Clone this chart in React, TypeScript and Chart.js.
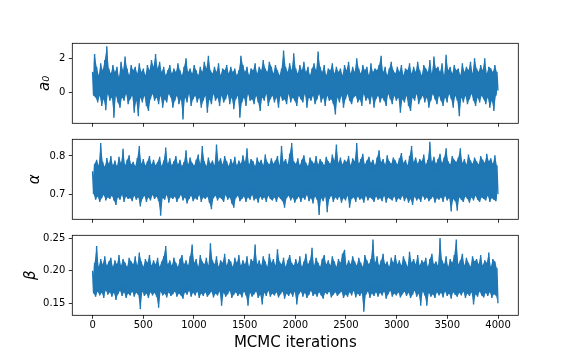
import React, { useEffect, useRef } from 'react';
import { Chart, registerables } from 'chart.js';

Chart.register(...registerables);
Chart.defaults.font.family = "'DejaVu Sans', sans-serif";

// ---- data: per 20-iteration bin, the trace's high and low ----
const lastIteration = 3999;
const xTicks = [0, 500, 1000, 1500, 2000, 2500, 3000, 3500, 4000];
const xTickLabels = ['0', '500', '1000', '1500', '2000', '2500', '3000', '3500', '4000'];

const a0High = [
  1.2, 2.25, 1.5, 1.0, 1.7, 1.3, 1.9, 2.7, 1.4, 1.1,
  1.6, 1.2, 1.5, 0.9, 1.8, 1.3, 2.1, 1.4, 1.0, 1.6,
  1.3, 1.5, 1.1, 1.7, 1.2, 1.4, 1.0, 1.6, 1.3, 1.9,
  1.5, 2.25, 1.4, 1.8, 1.2, 1.5, 1.0, 1.3, 1.6, 1.1,
  1.4, 1.2, 1.7, 1.3, 1.0, 1.5, 2.0, 1.2, 1.4, 1.1,
  1.6, 1.3, 1.0, 1.5, 1.2, 1.8, 1.4, 2.15, 1.3, 1.1,
  1.5, 1.2, 1.7, 1.0, 1.4, 1.3, 1.6, 1.1, 1.5, 1.2,
  1.4, 1.0, 1.3, 2.15, 1.6, 1.2, 1.5, 1.0, 1.4, 1.3,
  1.7, 1.1, 1.5, 1.3, 1.9, 1.4, 1.2, 1.8, 1.5, 1.1,
  1.6, 1.3, 1.0, 1.4, 2.45, 1.5, 1.2, 1.7, 1.3, 2.3,
  1.4, 1.1, 1.6, 1.3, 1.8, 1.2, 1.5, 1.0, 1.4, 1.7,
  1.3, 2.4, 1.5, 1.2, 1.6, 1.0, 1.4, 1.3, 1.7, 1.1,
  1.5, 1.2, 1.4, 1.0, 1.6, 1.3, 1.8, 1.1, 1.5, 1.2,
  2.0, 1.4, 1.1, 1.6, 1.3, 1.5, 1.0, 1.7, 1.2, 1.4,
  1.3, 1.6, 2.15, 1.2, 1.5, 1.0, 1.4, 1.8, 1.3, 1.1,
  1.5, 1.2, 1.6, 1.0, 1.4, 1.3, 1.7, 1.1, 1.5, 1.2,
  1.8, 1.3, 1.0, 1.6, 1.4, 1.2, 1.9, 1.1, 2.1, 1.4,
  1.5, 1.2, 1.7, 1.0, 2.2, 1.3, 1.5, 1.1, 1.6, 1.3,
  1.4, 1.0, 1.7, 1.2, 1.5, 1.3, 1.8, 1.1, 2.0, 1.4,
  1.2, 1.6, 1.3, 2.0, 1.1, 1.5, 1.4, 1.2, 1.6, 1.2,
];
const a0Low = [
  -0.2, -0.3, -0.6, -0.2, -0.8, -0.4, -1.05, -0.1, -0.5, -0.3,
  -1.5, -0.2, -0.6, -0.9, -0.3, -0.5, -0.1, -0.7, -0.4, -0.2,
  -1.2, -0.5, -1.4, -0.3, -0.6, -0.2, -0.8, -1.1, -0.4, -0.1,
  -0.5, -0.3, -0.7, -0.2, -0.9, -0.4, -0.6, -0.1, -0.3, -0.9,
  -0.5, -0.2, -0.7, -0.4, -1.6, -0.3, -0.6, -0.1, -0.8, -0.4,
  -0.2, -0.6, -0.3, -0.9, -0.5, -0.2, -1.2, -0.4, -0.7, -0.1,
  -0.5, -0.3, -0.8, -0.2, -0.6, -0.4, -0.1, -0.7, -0.3, -1.0,
  -0.4, -0.2, -1.5, -0.6, -0.3, -0.8, -0.1, -0.5, -0.4, -0.7,
  -0.2, -0.6, -1.1, -0.3, -0.5, -0.1, -0.8, -0.4, -0.2, -0.6,
  -0.3, -0.9, -0.2, -0.5, -0.4, -0.7, -0.1, -0.6, -0.3, -0.5,
  -0.8, -0.2, -0.4, -0.6, -0.1, -0.9, -0.3, -0.5, -0.2, -0.7,
  -0.4, -0.1, -0.6, -0.3, -0.8, -0.2, -0.5, -0.4, -0.7, -1.3,
  -0.3, -0.6, -0.2, -0.9, -0.4, -0.1, -0.5, -0.7, -0.3, -0.2,
  -0.6, -0.4, -0.8, -0.1, -0.5, -0.3, -0.7, -0.2, -0.9, -0.4,
  -0.2, -0.6, -0.3, -0.5, -0.8, -0.1, -0.4, -0.7, -0.2, -0.5,
  -0.3, -1.2, -0.4, -0.6, -0.2, -0.8, -1.1, -0.3, -0.5, -0.1,
  -0.7, -0.4, -0.2, -0.6, -0.3, -0.9, -0.5, -0.1, -0.4, -0.7,
  -0.2, -0.5, -0.8, -0.3, -0.6, -0.1, -0.4, -0.9, -0.2, -0.5,
  -1.4, -0.3, -0.6, -0.2, -0.7, -0.4, -0.1, -0.5, -0.8, -0.3,
  -0.6, -0.2, -0.4, -0.7, -0.3, -0.9, -0.5, -1.1, -0.2, 0.1,
];

const alphaHigh = [
  0.760, 0.780, 0.790, 0.775, 0.834, 0.785, 0.772, 0.795, 0.780, 0.800,
  0.776, 0.788, 0.774, 0.798, 0.782, 0.819, 0.776, 0.790, 0.802, 0.778,
  0.785, 0.774, 0.795, 0.826, 0.780, 0.792, 0.775, 0.786, 0.800, 0.778,
  0.790, 0.776, 0.784, 0.798, 0.774, 0.788, 0.822, 0.780, 0.794, 0.776,
  0.786, 0.800, 0.778, 0.790, 0.774, 0.784, 0.815, 0.778, 0.796, 0.782,
  0.775, 0.790, 0.804, 0.780, 0.826, 0.786, 0.774, 0.796, 0.780, 0.788,
  0.776, 0.830, 0.784, 0.794, 0.778, 0.800, 0.786, 0.774, 0.792, 0.780,
  0.798, 0.776, 0.788, 0.780, 0.802, 0.784, 0.820, 0.778, 0.792, 0.786,
  0.774, 0.796, 0.782, 0.790, 0.776, 0.804, 0.784, 0.778, 0.794, 0.780,
  0.788, 0.800, 0.776, 0.826, 0.784, 0.792, 0.778, 0.806, 0.834, 0.786,
  0.780, 0.794, 0.776, 0.790, 0.802, 0.782, 0.774, 0.796, 0.786, 0.780,
  0.800, 0.778, 0.792, 0.784, 0.776, 0.798, 0.786, 0.780, 0.804, 0.788,
  0.830, 0.782, 0.796, 0.778, 0.790, 0.784, 0.800, 0.776, 0.794, 0.786,
  0.834, 0.780, 0.792, 0.806, 0.778, 0.788, 0.798, 0.782, 0.790, 0.776,
  0.796, 0.815, 0.784, 0.792, 0.778, 0.802, 0.786, 0.780, 0.796, 0.788,
  0.778, 0.794, 0.808, 0.782, 0.790, 0.776, 0.800, 0.826, 0.784, 0.796,
  0.780, 0.792, 0.786, 0.804, 0.778, 0.790, 0.837, 0.784, 0.798, 0.780,
  0.792, 0.806, 0.782, 0.796, 0.820, 0.786, 0.778, 0.800, 0.790, 0.784,
  0.796, 0.820, 0.782, 0.792, 0.778, 0.804, 0.788, 0.780, 0.796, 0.786,
  0.778, 0.800, 0.790, 0.782, 0.806, 0.786, 0.794, 0.780, 0.802, 0.776,
];
const alphaLow = [
  0.700, 0.686, 0.694, 0.680, 0.690, 0.698, 0.684, 0.692, 0.688, 0.696,
  0.684, 0.672, 0.692, 0.686, 0.698, 0.680, 0.694, 0.688, 0.690, 0.682,
  0.696, 0.686, 0.692, 0.668, 0.688, 0.696, 0.680, 0.692, 0.684, 0.698,
  0.688, 0.694, 0.682, 0.644, 0.690, 0.686, 0.698, 0.678, 0.692, 0.688,
  0.694, 0.680, 0.690, 0.698, 0.684, 0.692, 0.676, 0.688, 0.696, 0.682,
  0.690, 0.686, 0.698, 0.680, 0.692, 0.688, 0.694, 0.678, 0.661, 0.690,
  0.696, 0.684, 0.692, 0.688, 0.680, 0.698, 0.686, 0.692, 0.676, 0.665,
  0.690, 0.696, 0.682, 0.688, 0.694, 0.680, 0.692, 0.686, 0.698, 0.684,
  0.690, 0.678, 0.694, 0.686, 0.692, 0.680, 0.696, 0.688, 0.684, 0.692,
  0.680, 0.694, 0.688, 0.682, 0.665, 0.690, 0.696, 0.684, 0.692, 0.678,
  0.688, 0.694, 0.680, 0.692, 0.686, 0.698, 0.682, 0.690, 0.676, 0.694,
  0.686, 0.646, 0.690, 0.682, 0.694, 0.653, 0.688, 0.696, 0.680, 0.692,
  0.686, 0.694, 0.678, 0.690, 0.684, 0.696, 0.665, 0.688, 0.692, 0.680,
  0.694, 0.686, 0.690, 0.678, 0.696, 0.684, 0.692, 0.688, 0.680, 0.694,
  0.686, 0.690, 0.682, 0.696, 0.678, 0.692, 0.688, 0.684, 0.694, 0.680,
  0.690, 0.686, 0.696, 0.682, 0.692, 0.678, 0.688, 0.672, 0.694, 0.684,
  0.690, 0.680, 0.696, 0.686, 0.692, 0.682, 0.688, 0.694, 0.678, 0.690,
  0.686, 0.692, 0.680, 0.696, 0.684, 0.690, 0.655, 0.688, 0.682, 0.657,
  0.692, 0.686, 0.680, 0.694, 0.688, 0.678, 0.692, 0.684, 0.696, 0.686,
  0.680, 0.692, 0.688, 0.684, 0.696, 0.680, 0.690, 0.686, 0.682, 0.700,
];

const betaHigh = [
  0.200, 0.212, 0.238, 0.206, 0.218, 0.210, 0.222, 0.208, 0.214, 0.220,
  0.206, 0.216, 0.210, 0.224, 0.208, 0.218, 0.212, 0.206, 0.220, 0.214,
  0.210, 0.222, 0.208, 0.228, 0.214, 0.206, 0.218, 0.212, 0.224, 0.208,
  0.216, 0.210, 0.220, 0.206, 0.214, 0.222, 0.238, 0.210, 0.216, 0.208,
  0.220, 0.212, 0.206, 0.218, 0.224, 0.210, 0.216, 0.208, 0.222, 0.240,
  0.212, 0.218, 0.206, 0.224, 0.214, 0.210, 0.220, 0.208, 0.242, 0.216,
  0.210, 0.222, 0.206, 0.216, 0.212, 0.226, 0.208, 0.218, 0.214, 0.206,
  0.220, 0.212, 0.224, 0.208, 0.216, 0.210, 0.222, 0.206, 0.218, 0.214,
  0.240, 0.210, 0.216, 0.208, 0.222, 0.214, 0.206, 0.226, 0.212, 0.218,
  0.208, 0.233, 0.214, 0.210, 0.220, 0.206, 0.216, 0.224, 0.212, 0.208,
  0.218, 0.210, 0.222, 0.206, 0.214, 0.226, 0.210, 0.216, 0.235, 0.208,
  0.220, 0.212, 0.206, 0.218, 0.224, 0.210, 0.216, 0.208, 0.222, 0.214,
  0.206, 0.218, 0.212, 0.226, 0.232, 0.208, 0.216, 0.210, 0.222, 0.214,
  0.208, 0.220, 0.212, 0.206, 0.224, 0.216, 0.210, 0.218, 0.248, 0.212,
  0.222, 0.208, 0.216, 0.226, 0.210, 0.214, 0.206, 0.220, 0.212, 0.224,
  0.210, 0.216, 0.208, 0.222, 0.214, 0.206, 0.229, 0.212, 0.218, 0.210,
  0.224, 0.208, 0.216, 0.212, 0.220, 0.206, 0.218, 0.226, 0.210, 0.214,
  0.208, 0.250, 0.216, 0.210, 0.222, 0.206, 0.218, 0.212, 0.224, 0.248,
  0.210, 0.216, 0.226, 0.208, 0.220, 0.212, 0.206, 0.222, 0.214, 0.218,
  0.210, 0.224, 0.208, 0.216, 0.212, 0.228, 0.206, 0.218, 0.214, 0.204,
];
const betaLow = [
  0.165, 0.160, 0.168, 0.162, 0.166, 0.158, 0.170, 0.163, 0.167, 0.160,
  0.166, 0.155, 0.164, 0.169, 0.161, 0.167, 0.158, 0.165, 0.162, 0.168,
  0.160, 0.166, 0.163, 0.141, 0.168, 0.161, 0.165, 0.158, 0.167, 0.162,
  0.166, 0.160, 0.143, 0.168, 0.162, 0.165, 0.159, 0.167, 0.161, 0.164,
  0.168, 0.160, 0.165, 0.162, 0.157, 0.167, 0.163, 0.169, 0.160, 0.166,
  0.162, 0.168, 0.158, 0.165, 0.161, 0.167, 0.160, 0.164, 0.168, 0.159,
  0.165, 0.162, 0.168, 0.146, 0.166, 0.160, 0.164, 0.169, 0.158, 0.163,
  0.167, 0.161, 0.165, 0.159, 0.168, 0.162, 0.146, 0.166, 0.160, 0.164,
  0.168, 0.158, 0.163, 0.148, 0.166, 0.161, 0.169, 0.160, 0.165, 0.162,
  0.167, 0.159, 0.164, 0.168, 0.157, 0.165, 0.161, 0.166, 0.160, 0.168,
  0.148, 0.164, 0.168, 0.160, 0.166, 0.158, 0.163, 0.169, 0.161, 0.165,
  0.160, 0.167, 0.162, 0.157, 0.166, 0.164, 0.168, 0.159, 0.163, 0.167,
  0.161, 0.165, 0.168, 0.158, 0.164, 0.160, 0.167, 0.162, 0.169, 0.159,
  0.165, 0.161, 0.166, 0.137, 0.163, 0.168, 0.158, 0.165, 0.161, 0.167,
  0.160, 0.166, 0.162, 0.168, 0.157, 0.164, 0.169, 0.160, 0.165, 0.162,
  0.167, 0.159, 0.164, 0.168, 0.161, 0.166, 0.158, 0.163, 0.169, 0.160,
  0.165, 0.146, 0.168, 0.162, 0.146, 0.166, 0.160, 0.164, 0.158, 0.167,
  0.162, 0.166, 0.159, 0.168, 0.161, 0.165, 0.157, 0.167, 0.163, 0.160,
  0.166, 0.162, 0.168, 0.158, 0.165, 0.161, 0.167, 0.148, 0.164, 0.160,
  0.168, 0.162, 0.159, 0.166, 0.161, 0.167, 0.158, 0.164, 0.162, 0.150,
];

const a0Ticks = [0, 2];
const a0TickLabels = ['0', '2'];
const alphaTicks = [0.7, 0.8];
const alphaTickLabels = ['0.7', '0.8'];
const betaTicks = [0.15, 0.2, 0.25];
const betaTickLabels = ['0.15', '0.20', '0.25'];

// ---- layout ----
const W = 576;
const H = 360;
const FRAME_LEFT = 72.3;
const FRAME_RIGHT = 518.3;
const X_MIN = -200;
const X_MAX = 4200;
const COLOR = '#1f77b4';

type PanelCfg = {
  high: number[];
  low: number[];
  label: string;
  ticks: number[];
  tickLabels: string[];
  min: number;
  max: number;
  top: number;
  bottom: number;
  xHeight: number;
  showX: boolean;
  titlePad: number;
};

const panels: PanelCfg[] = [
  { high: a0High, low: a0Low, label: 'a\u2080', ticks: a0Ticks, tickLabels: a0TickLabels, min: -1.82, max: 2.88, top: 43.3, bottom: 123.3, xHeight: 6, showX: false, titlePad: 36 },
  { high: alphaHigh, low: alphaLow, label: '\u03b1', ticks: alphaTicks, tickLabels: alphaTickLabels, min: 0.6347, max: 0.8436, top: 139.3, bottom: 219.3, xHeight: 6, showX: false, titlePad: 26.5 },
  { high: betaHigh, low: betaLow, label: '\u03b2', ticks: betaTicks, tickLabels: betaTickLabels, min: 0.1315, max: 0.2543, top: 235.3, bottom: 315.3, xHeight: 44.7, showX: true, titlePad: 22 },
];

const framePlugin = {
  id: 'frame',
  afterDraw(chart: any) {
    const { ctx, chartArea } = chart;
    ctx.save();
    ctx.strokeStyle = '#000';
    ctx.lineWidth = 0.8;
    ctx.strokeRect(chartArea.left, chartArea.top, chartArea.right - chartArea.left, chartArea.bottom - chartArea.top);
    ctx.restore();
  },
};

function Panel({ cfg }: { cfg: PanelCfg }) {
  const ref = useRef<HTMLCanvasElement>(null);
  useEffect(() => {
    const n = cfg.high.length;
    const step = lastIteration / (2 * n - 1);
    const highPts = cfg.high.map((y, i) => ({ x: 2 * i * step, y }));
    const lowPts = cfg.low.map((y, i) => ({ x: (2 * i + 1) * step, y }));
    const trace: { x: number; y: number }[] = [];
    for (let i = 0; i < n; i++) {
      trace.push(highPts[i]);
      trace.push(lowPts[i]);
    }
    const chart = new Chart(ref.current as HTMLCanvasElement, {
      type: 'line',
      data: {
        datasets: [
          { data: trace, borderColor: COLOR, borderWidth: 1.4, pointRadius: 0, tension: 0, fill: false },
          { data: highPts, borderColor: COLOR, borderWidth: 0, pointRadius: 0, tension: 0, fill: false },
          { data: lowPts, borderColor: COLOR, backgroundColor: COLOR, borderWidth: 0, pointRadius: 0, tension: 0, fill: '-1' },
        ],
      },
      options: {
        animation: false,
        responsive: false,
        devicePixelRatio: 1,
        events: [],
        layout: {
          padding: { top: cfg.top, bottom: H - cfg.bottom - cfg.xHeight, left: 0, right: W - FRAME_RIGHT },
        },
        plugins: { legend: { display: false }, tooltip: { enabled: false } },
        scales: {
          x: {
            type: 'linear',
            min: X_MIN,
            max: X_MAX,
            afterBuildTicks: (s: any) => {
              s.ticks = xTicks.map((v) => ({ value: v }));
            },
            afterFit: (s: any) => {
              s.height = cfg.xHeight;
            },
            grid: { display: true, drawOnChartArea: false, drawTicks: true, tickLength: 3.5, tickWidth: 0.8, tickColor: '#000' },
            border: { display: false },
            ticks: {
              display: cfg.showX,
              padding: 1,
              color: '#000',
              font: { size: 10 },
              maxRotation: 0,
              autoSkip: false,
              callback: (v: any) => xTickLabels[xTicks.indexOf(Number(v))] ?? '',
            },
            title: {
              display: cfg.showX,
              text: 'MCMC iterations',
              color: '#000',
              font: { size: 15 },
              padding: { top: 0, bottom: 8 },
            },
          },
          y: {
            type: 'linear',
            min: cfg.min,
            max: cfg.max,
            afterBuildTicks: (s: any) => {
              s.ticks = cfg.ticks.map((v) => ({ value: v }));
            },
            afterFit: (s: any) => {
              s.width = FRAME_LEFT;
            },
            grid: { display: true, drawOnChartArea: false, drawTicks: true, tickLength: 3.5, tickWidth: 0.8, tickColor: '#000' },
            border: { display: false },
            ticks: {
              padding: 3.5,
              color: '#000',
              font: { size: 10 },
              autoSkip: false,
              callback: (v: any) => cfg.tickLabels[cfg.ticks.indexOf(Number(v))] ?? '',
            },
            title: {
              display: true,
              text: cfg.label,
              color: '#000',
              font: { size: 15, style: 'italic' },
              padding: { top: cfg.titlePad, bottom: 0 },
            },
          },
        },
      },
      plugins: [framePlugin],
    });
    return () => chart.destroy();
  }, [cfg]);
  return (
    <canvas
      ref={ref}
      width={W}
      height={H}
      style={{ position: 'absolute', left: 0, top: 0, width: W, height: H }}
    />
  );
}

export default function App() {
  return (
    <div style={{ position: 'absolute', left: 0, top: 0, width: W, height: H, background: '#fff' }}>
      {panels.map((p, i) => (
        <Panel key={i} cfg={p} />
      ))}
    </div>
  );
}
